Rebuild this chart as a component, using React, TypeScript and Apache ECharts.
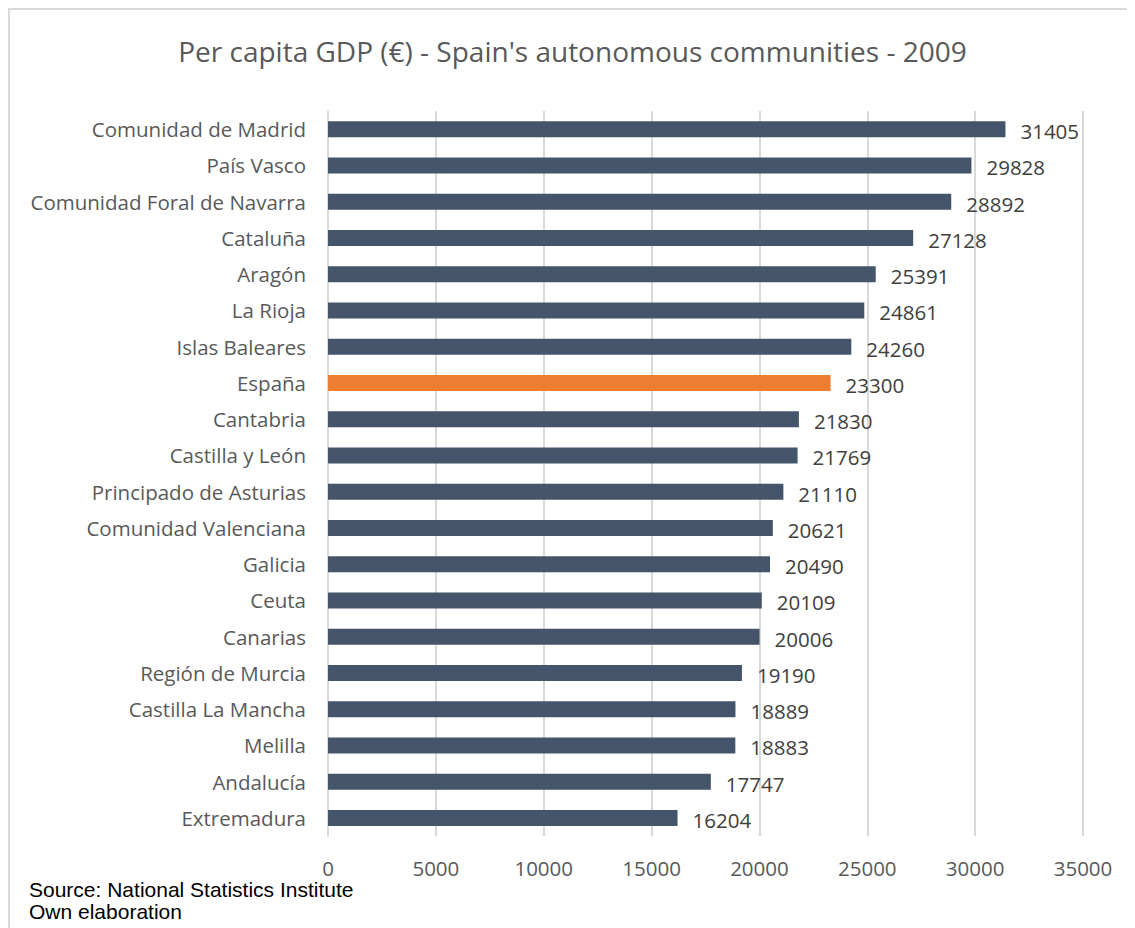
import React, { useEffect, useRef } from "react";
import * as echarts from "echarts";

const titleText = "Per capita GDP (€) - Spain's autonomous communities - 2009";
const categories = [
  "Comunidad de Madrid",
  "País Vasco",
  "Comunidad Foral de Navarra",
  "Cataluña",
  "Aragón",
  "La Rioja",
  "Islas Baleares",
  "España",
  "Cantabria",
  "Castilla y León",
  "Principado de Asturias",
  "Comunidad Valenciana",
  "Galicia",
  "Ceuta",
  "Canarias",
  "Región de Murcia",
  "Castilla La Mancha",
  "Melilla",
  "Andalucía",
  "Extremadura",
];
const gdpValues = [
  31405, 29828, 28892, 27128, 25391, 24861, 24260, 23300, 21830, 21769, 21110,
  20621, 20490, 20109, 20006, 19190, 18889, 18883, 17747, 16204,
];
const highlightCategory = "España";
const sourceLines = ["Source: National Statistics Institute", "Own elaboration"];

const BAR_COLOR = "#44546A";
const HIGHLIGHT_COLOR = "#ED7D31";
const TEXT_COLOR = "#595959";
const FONT = "'Open Sans', sans-serif";

export default function App() {
  const ref = useRef<HTMLDivElement>(null);
  useEffect(() => {
    if (!ref.current) return;
    const chart = echarts.init(ref.current, undefined, { renderer: "svg" });
    chart.setOption({
      animation: false,
      backgroundColor: "#ffffff",
      title: {
        text: titleText,
        left: "center",
        top: 22,
        textStyle: {
          fontFamily: FONT,
          fontSize: 28,
          fontWeight: "normal",
          color: TEXT_COLOR,
        },
      },
      grid: {
        left: 318,
        width: 755,
        top: 101,
        height: 725,
        containLabel: false,
      },
      xAxis: {
        type: "value",
        min: 0,
        max: 35000,
        interval: 5000,
        axisLine: { show: false },
        axisTick: { show: false },
        splitLine: { show: true, lineStyle: { color: "#d9d9d9", width: 2 } },
        axisLabel: {
          margin: 24,
          fontFamily: FONT,
          fontSize: 20.5,
          lineHeight: 16,
          color: TEXT_COLOR,
          formatter: (v: number) => String(v),
        },
      },
      yAxis: {
        type: "category",
        data: categories,
        inverse: true,
        axisLine: { show: true, lineStyle: { color: "#d9d9d9", width: 2 } },
        axisTick: { show: false },
        axisLabel: {
          margin: 22,
          fontFamily: FONT,
          fontSize: 20.5,
          color: TEXT_COLOR,
        },
      },
      series: [
        {
          type: "bar",
          barWidth: 16,
          data: gdpValues.map((v, i) => ({
            value: v,
            itemStyle: {
              color: categories[i] === highlightCategory ? HIGHLIGHT_COLOR : BAR_COLOR,
            },
          })),
          label: {
            show: true,
            position: "right",
            distance: 15,
            offset: [0, 2],
            fontFamily: FONT,
            fontSize: 20.5,
            color: "#404040",
          },
        },
      ],
      graphic: sourceLines.map((line, i) => ({
        type: "text",
        left: 19,
        top: 869 + i * 22,
        style: {
          text: line,
          font: "21px 'Liberation Sans', Arial, sans-serif",
          lineHeight: 18,
          fill: "#000000",
        },
      })),
    });
    return () => chart.dispose();
  }, []);
  return (
    <div
      style={{
        width: 1127,
        height: 920,
        boxSizing: "border-box",
        borderTop: "2px solid #d9d9d9",
        borderLeft: "2px solid #d9d9d9",
        overflow: "hidden",
      }}
    >
      <div ref={ref} style={{ width: 1125, height: 918 }} />
    </div>
  );
}
